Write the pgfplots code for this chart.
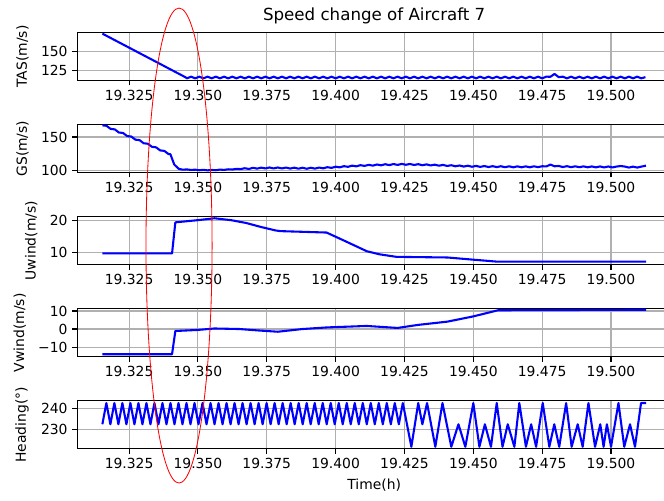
\documentclass[border=0pt]{standalone}
\usepackage{fontspec}
\setmainfont{DejaVu Sans}
\usepackage{pgfplots}
\pgfplotsset{compat=1.18}
\definecolor{gridgray}{HTML}{B0B0B0}
\pgfplotsset{
  panel/.style={
    scale only axis, width=427.5pt, height=34.56pt,
    anchor=north west,
    xmin=19.3062, xmax=19.5218,
    xtick={19.325,19.35,19.375,19.4,19.425,19.45,19.475,19.5},
    xticklabels={19.325,19.350,19.375,19.400,19.425,19.450,19.475,19.500},
    grid=major, major grid style={color=gridgray, line width=0.8pt},
    axis line style={line width=0.8pt, black},
    tick align=outside, major tick length=3.5pt,
    tick style={black, line width=0.8pt},
    tick pos=left,
    no markers,
    ylabel shift=2pt,
    tick label style={font=\fontsize{10}{12}\selectfont},
    label style={font=\fontsize{10}{12}\selectfont},
  },
  trace/.style={color=blue, line width=1.5pt, line join=round, mark=none},
}
\begin{document}
\begin{tikzpicture}
% ---------- TAS ----------
\begin{axis}[panel, at={(55.66pt,336.6pt)},
  ymin=111.5, ymax=175.5, ytick={125,150}, yticklabels={125,150},
  ylabel={TAS(m/s)},
  title={Speed change of Aircraft 7},
  title style={at={(0.5,1)}, anchor=base, yshift=2.4pt, font=\fontsize{12}{14}\selectfont}]
\addplot[trace] coordinates {(19.3153,174.0)(19.3455,115.8)
(19.3460,114.4)(19.3475,116.6)(19.3490,114.4)(19.3505,116.6)(19.3520,114.4)(19.3535,116.6)(19.3550,114.4)(19.3565,116.6)(19.3580,114.4)(19.3595,116.6)
(19.3610,114.4)(19.3625,116.6)(19.3640,114.4)(19.3655,116.6)(19.3670,114.4)(19.3685,116.6)(19.3700,114.4)(19.3715,116.6)(19.3730,114.4)(19.3745,116.6)
(19.3760,114.4)(19.3775,116.6)(19.3790,114.4)(19.3805,116.6)(19.3820,114.4)(19.3835,116.6)(19.3850,114.4)(19.3865,116.6)(19.3880,114.4)(19.3895,116.6)
(19.3910,114.4)(19.3925,116.6)(19.3940,114.4)(19.3955,116.6)(19.3970,114.4)(19.3985,116.6)(19.4000,114.4)(19.4015,116.6)(19.4030,114.4)(19.4045,116.6)
(19.4060,114.4)(19.4075,116.6)(19.4090,114.4)(19.4105,116.6)(19.4120,114.4)(19.4135,116.6)(19.4150,114.4)(19.4165,116.6)(19.4180,114.4)(19.4195,116.6)
(19.4210,114.4)(19.4225,116.6)(19.4240,114.4)(19.4255,116.6)(19.4270,114.4)(19.4285,116.6)(19.4300,114.4)(19.4315,116.6)(19.4330,114.4)(19.4345,116.6)
(19.4360,114.4)(19.4375,116.6)(19.4390,114.4)(19.4405,116.6)(19.4420,114.4)(19.4435,116.6)(19.4450,114.4)(19.4465,116.6)(19.4480,114.4)(19.4495,116.6)
(19.4510,114.4)(19.4525,116.6)(19.4540,114.4)(19.4555,116.6)(19.4570,114.4)(19.4585,116.6)(19.4600,114.4)(19.4615,116.6)(19.4630,114.4)(19.4645,116.6)
(19.4660,114.4)(19.4675,116.6)(19.4690,114.4)(19.4705,116.6)(19.4720,114.4)(19.4735,116.6)(19.4750,114.4)(19.4765,116.6)(19.4780,116.5)(19.4795,120.3)
(19.4810,116.0)(19.4825,116.6)(19.4840,114.4)(19.4855,116.6)(19.4870,114.4)(19.4885,116.6)(19.4900,114.4)(19.4915,116.6)(19.4930,114.4)(19.4945,116.6)
(19.4960,114.4)(19.4975,116.6)(19.4990,114.4)(19.5005,116.6)(19.5020,114.4)(19.5035,116.6)(19.5050,114.4)(19.5065,116.6)(19.5080,114.4)(19.5095,116.6)
(19.5110,114.4)(19.5125,116.0)};
\end{axis}
% ---------- GS ----------
\begin{axis}[panel, at={(55.66pt,270.29pt)},
  ymin=96.3, ymax=168.6, ytick={100,150}, yticklabels={100,150},
  ylabel={GS(m/s)}]
\addplot[trace] coordinates {(19.3153,167.5)(19.3168,166.8)(19.3183,162.1)(19.3198,161.4)(19.3213,156.7)(19.3228,156.0)(19.3243,151.3)(19.3258,150.6)
(19.3273,145.9)(19.3288,145.2)(19.3303,140.5)(19.3318,139.8)(19.3333,135.1)(19.3348,134.4)(19.3363,129.7)(19.3378,129.0)(19.3393,124.3)(19.3400,124.0)
(19.3414,108.5)(19.3430,102.0)
(19.3445,100.7)(19.3460,101.1)(19.3475,100.3)(19.3490,100.7)(19.3505,99.9)(19.3520,100.4)(19.3535,99.7)(19.3550,100.3)(19.3565,99.9)(19.3580,100.8)
(19.3595,100.4)(19.3610,101.3)(19.3625,101.0)(19.3640,101.9)(19.3655,101.6)(19.3670,102.9)(19.3685,101.8)(19.3700,103.5)(19.3715,102.3)(19.3730,103.8)
(19.3745,102.6)(19.3760,104.0)(19.3775,102.6)(19.3790,104.0)(19.3805,102.6)(19.3820,103.9)(19.3835,102.4)(19.3850,103.7)(19.3865,102.2)(19.3880,103.6)
(19.3895,102.1)(19.3910,103.6)(19.3925,102.3)(19.3940,103.9)(19.3955,102.7)(19.3970,104.5)(19.3985,103.4)(19.4000,105.2)(19.4015,104.2)(19.4030,106.0)
(19.4045,105.0)(19.4060,106.8)(19.4075,105.7)(19.4090,107.5)(19.4105,106.4)(19.4120,108.0)(19.4135,106.8)(19.4150,108.5)(19.4165,107.3)(19.4180,108.9)
(19.4195,107.6)(19.4210,109.2)(19.4225,107.9)(19.4240,109.4)(19.4255,108.1)(19.4270,109.3)(19.4285,107.8)(19.4300,109.0)(19.4315,107.4)(19.4330,108.7)
(19.4345,107.1)(19.4360,108.3)(19.4375,106.7)(19.4390,107.9)(19.4405,106.3)(19.4420,107.4)(19.4435,105.8)(19.4450,107.0)(19.4465,105.4)(19.4480,106.7)
(19.4495,105.1)(19.4510,106.4)(19.4525,104.9)(19.4540,106.2)(19.4555,104.7)(19.4570,106.0)(19.4585,104.6)(19.4600,105.9)(19.4615,104.4)(19.4630,105.8)
(19.4645,104.3)(19.4660,105.7)(19.4675,104.3)(19.4690,105.7)(19.4705,104.3)(19.4720,105.8)(19.4735,104.5)(19.4750,105.9)(19.4765,105.6)(19.4780,108.4)
(19.4795,105.8)(19.4810,106.3)(19.4825,104.7)(19.4840,106.0)(19.4855,104.5)(19.4870,105.8)(19.4885,104.4)(19.4900,105.7)(19.4915,104.3)(19.4930,105.6)
(19.4945,104.2)(19.4960,105.6)(19.4975,104.1)(19.4990,105.5)(19.5005,104.1)(19.5020,105.4)(19.5035,106.2)(19.5050,105.4)(19.5065,103.9)(19.5080,105.3)
(19.5095,103.9)(19.5110,105.3)(19.5127,106.8)};
\end{axis}
% ---------- Uwind ----------
\begin{axis}[panel, at={(55.66pt,203.98pt)},
  ymin=6.0, ymax=21.3, ytick={10,20}, yticklabels={10,20},
  ylabel={Uwind(m/s)}]
\addplot[trace] coordinates {(19.3153,9.6)(19.3406,9.6)(19.3418,19.5)(19.3500,20.2)(19.3560,20.8)(19.3620,20.2)(19.3675,19.3)(19.3730,18.0)(19.3783,16.9)
(19.3800,16.7)(19.3967,16.25)(19.4040,13.3)(19.4113,10.3)(19.4160,9.3)(19.4221,8.5)(19.4406,8.3)(19.4500,7.6)(19.4583,7.0)(19.5127,7.0)};
\end{axis}
% ---------- Vwind ----------
\begin{axis}[panel, at={(55.66pt,137.66pt)},
  ymin=-15.4, ymax=11.2, ytick={-10,0,10}, yticklabels={−10,0,10},
  ylabel={Vwind(m/s)}]
\addplot[trace] coordinates {(19.3153,-14.0)(19.3406,-14.0)(19.3418,-1.1)(19.3500,-0.5)(19.3560,0.3)(19.3650,0.0)(19.3720,-0.8)(19.3790,-1.5)(19.3880,0.0)
(19.3970,0.9)(19.4113,1.7)(19.4225,0.6)(19.4300,2.3)(19.4406,4.1)(19.4500,7.0)(19.4590,10.4)(19.5127,10.7)};
\end{axis}
% ---------- Heading ----------
\begin{axis}[panel, at={(55.66pt,71.35pt)},
  ymin=221.0, ymax=243.6, ytick={230,240}, yticklabels={230,240},
  ylabel={Heading(°)}, xlabel={Time(h)}]
\addplot[trace] coordinates {(19.3153,232.6)(19.31675,242.6)(19.31821,232.6)(19.31966,242.6)(19.32112,232.6)(19.32257,242.6)(19.32403,232.6)(19.32548,242.6)
(19.32694,232.6)(19.32839,242.6)(19.32985,232.6)(19.33130,242.6)(19.33276,232.6)(19.33421,242.6)(19.33567,232.6)(19.33712,242.6)(19.33858,232.6)(19.34003,242.6)
(19.34148,232.6)(19.34294,242.6)(19.34439,232.6)(19.34585,242.6)(19.34730,232.6)(19.34876,242.6)(19.35021,232.6)(19.35167,242.6)(19.35312,232.6)(19.35458,242.6)
(19.35603,232.6)(19.35749,242.6)(19.35894,232.6)(19.36040,242.6)(19.36185,232.6)(19.36331,242.6)(19.36476,232.6)(19.36621,242.6)(19.36767,232.6)(19.36912,242.6)
(19.37058,232.6)(19.37203,242.6)(19.37349,232.6)(19.37494,242.6)(19.37640,232.6)(19.37785,242.6)(19.37931,232.6)(19.38076,242.6)(19.38222,232.6)(19.38367,242.6)
(19.38513,232.6)(19.38658,242.6)(19.38804,232.6)(19.38949,242.6)(19.39094,232.6)(19.39240,242.6)(19.39385,232.6)(19.39531,242.6)(19.39676,232.6)(19.39822,242.6)
(19.39967,232.6)(19.40113,242.6)(19.40258,232.6)(19.40404,242.6)(19.40549,232.6)(19.40695,242.6)(19.40840,232.6)(19.40986,242.6)(19.41131,232.6)(19.41276,242.6)
(19.41422,232.6)(19.41567,242.6)(19.41713,232.6)(19.41858,242.6)(19.42004,232.6)(19.42149,242.6)(19.42295,232.6)(19.42440,242.6)
(19.4275,222.0)(19.4300,242.6)(19.4315,232.6)(19.4332,242.6)(19.4362,222.0)(19.4388,242.6)(19.4420,222.0)(19.4446,232.6)(19.4471,222.0)
(19.4500,242.6)(19.4522,222.0)(19.4542,232.6)(19.4564,222.0)(19.4585,242.6)(19.4606,222.0)(19.4625,232.6)(19.4649,222.0)(19.4667,242.6)
(19.4691,222.0)(19.4710,232.6)(19.4728,222.0)(19.4752,242.6)(19.4776,222.0)(19.4794,232.6)(19.4812,222.0)(19.4837,242.6)(19.4857,222.0)
(19.4879,232.6)(19.4897,222.0)(19.4918,242.6)(19.4942,222.0)(19.4961,232.6)(19.4973,222.0)(19.4985,232.6)(19.5000,222.0)(19.5027,242.6)
(19.5048,222.0)(19.5069,232.6)(19.5087,222.0)(19.5109,242.6)(19.5127,242.6)};
\end{axis}
% annotation ellipse
\draw[red, line width=0.6pt] (128.9pt,183.2pt) ellipse [x radius=23.8pt, y radius=171pt];
\pgfresetboundingbox
\path[use as bounding box] (0pt,0pt) rectangle (478.08pt,360pt);
\end{tikzpicture}
\end{document}
